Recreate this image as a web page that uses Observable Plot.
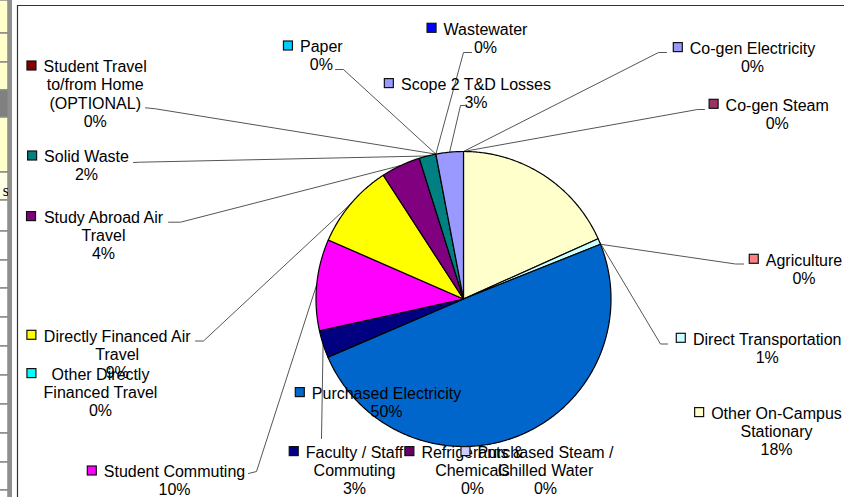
<!DOCTYPE html>
<html><head><meta charset="utf-8">
<script src="https://cdn.jsdelivr.net/npm/d3@7"></script>
<script src="https://cdn.jsdelivr.net/npm/@observablehq/plot@0.6"></script>
<style>
html,body{margin:0;padding:0;background:#fff;}
#chart{width:844px;height:497px;overflow:hidden;}
</style></head><body><div id="chart"></div>
<script>
// ---- data (clockwise from 12 o'clock) ----
const categories = [
  "Co-gen Electricity","Co-gen Steam","Other On-Campus Stationary","Direct Transportation",
  "Agriculture","Purchased Electricity","Refrigerants & Chemicals","Purchased Steam / Chilled Water",
  "Faculty / Staff Commuting","Student Commuting","Other Directly Financed Travel",
  "Directly Financed Air Travel","Study Abroad Air Travel","Solid Waste",
  "Student Travel to/from Home (OPTIONAL)","Paper","Wastewater","Scope 2 T&D Losses"
];
const values = [0, 0, 18.3, 0.65, 0, 49.6, 0, 0, 3.0, 10.0, 0, 9.3, 4.3, 1.85, 0, 0, 0, 3.0];
const colors = ["#9999FF","#993366","#FFFFCC","#CCFFFF","#FF8080","#0066CC","#660066","#CCCCFF",
  "#000080","#FF00FF","#00FFFF","#FFFF00","#800080","#008080","#800000","#00CCFF","#0000FF","#9999FF"];
const labelLines = [
  "Co-gen Electricity","Co-gen Steam","Other On-Campus\nStationary","Direct Transportation",
  "Agriculture","Purchased Electricity","Refrigerants &\nChemicals","Purchased Steam /\nChilled Water",
  "Faculty / Staff\nCommuting","Student Commuting","Other Directly\nFinanced Travel",
  "Directly Financed Air\nTravel","Study Abroad Air\nTravel","Solid Waste",
  "Student Travel\nto/from Home\n(OPTIONAL)","Paper","Wastewater","Scope 2 T&D Losses"
];

// ---- layout (label anchors: text centre x, first baseline y; leader elbow points) ----
const labelLayout = [
  {cx:752,   base:53.3,  leader:[[666,52],[658,52]]},
  {cx:776.7, base:110,   leader:[[704,109],[697,109]]},
  {cx:776,   base:418.3, leader:null},
  {cx:766.7, base:344,   leader:[[667,343.5],[660,343.5]]},
  {cx:803.5, base:265,   leader:[[743,263.5],[735,263.5]]},
  {cx:386,   base:398.3, leader:null},
  {cx:472,   base:457.3, leader:null},
  {cx:545,   base:457.3, leader:null},
  {cx:354,   base:457.3, leader:[[321,438]]},
  {cx:174,   base:476.7, leader:[[248,473],[256,471]]},
  {cx:100,   base:379.3, leader:null},
  {cx:116.7, base:341,   leader:[[195,340.5],[203,340.5]]},
  {cx:103,   base:222.3, leader:[[168,221.7],[180,221.7]]},
  {cx:86,    base:161.7, leader:[[133,162],[140,161.7]]},
  {cx:94.7,  base:71.7,  leader:[[145,107.3],[155,108.3]]},
  {cx:320.8, base:51.7,  leader:[[335,69],[343,69]]},
  {cx:485,   base:34,    leader:[[471,52],[463,52]]},
  {cx:475.5, base:89.3,  leader:[[464,105],[460,105]]}
];
const pie = {cx:463, cy:298.5, r:147.5};
const FS = 16, LH = 1.14;
const FONT = '"Liberation Sans", Arial, sans-serif';

// ---- derived ----
const ctx = document.createElement("canvas").getContext("2d");
ctx.font = `${FS}px ${FONT}`;
const total = d3.sum(values);
let acc = 0;
const slices = categories.map((name, i) => {
  const a0 = acc / total * 2 * Math.PI; acc += values[i];
  const a1 = acc / total * 2 * Math.PI;
  return {name, value: values[i], a0, a1, i};
});
const pt = a => [pie.cx + pie.r * Math.sin(a), pie.cy - pie.r * Math.cos(a)];

const polys = [];
slices.filter(s => s.value > 0).forEach(s => {
  polys.push({name: s.name, x: pie.cx, y: pie.cy});
  const n = Math.max(2, Math.ceil((s.a1 - s.a0) / 0.01));
  for (let k = 0; k <= n; k++) {
    const [x, y] = pt(s.a0 + (s.a1 - s.a0) * k / n);
    polys.push({name: s.name, x, y});
  }
  polys.push({name: s.name, x: pie.cx, y: pie.cy});
});

const leaders = [];
slices.forEach((s, i) => {
  const L = labelLayout[i];
  if (!L.leader) return;
  L.leader.forEach(([x, y]) => leaders.push({name: s.name, x, y}));
  const [x, y] = pt((s.a0 + s.a1) / 2);
  leaders.push({name: s.name, x, y});
});

const labels = slices.map((s, i) => {
  const L = labelLayout[i];
  const lines = labelLines[i].split("\n");
  const maxW = d3.max(lines, t => ctx.measureText(t).width);
  const pct = Math.round(s.value / total * 100) + "%";
  return {
    name: s.name,
    text: labelLines[i] + "\n" + pct,
    x: L.cx,
    y: L.base - 0.71 * LH * FS,
    kx2: L.cx - maxW / 2 - 7, kx1: L.cx - maxW / 2 - 16,
    ky1: L.base - 10.7, ky2: L.base - 1.7
  };
});

// spreadsheet strip on the left (decoration)
const sheetRows = [0,33,62,90,117,172,200,231,260,288,317,346,375,404,433,462,490,520];
const sheetFills = ["#FFFFCC","#FFFFCC","#FFFFCC","#808080","#FFFFCC","#FFFFE6","#FFFFFF","#FFFFFF","#FFFFFF","#FFFFFF","#FFFFFF","#FFFFFF","#FFFFFF","#FFFFFF","#FFFFFF","#FFFFFF","#FFFFFF"];
const cells = sheetFills.map((f, i) => ({y1: sheetRows[i], y2: sheetRows[i+1], fill: f}));

const labelMarks = labels.flatMap(d => [
  Plot.rect([d], {x1: "kx1", x2: "kx2", y1: "ky1", y2: "ky2", fill: "name", stroke: "#111", strokeWidth: 1.2}),
  Plot.text([d], {x: "x", y: "y", text: "text", fontSize: FS, fontFamily: FONT, lineAnchor: "top",
    lineHeight: LH, textAnchor: "middle", fill: "#000"})
]);

const chart = Plot.plot({
  width: 844, height: 497, margin: 0,
  x: {domain: [0, 844], range: [0, 844], axis: null},
  y: {domain: [0, 497], range: [0, 497], axis: null},
  color: {domain: categories, range: colors},
  style: {background: "#fff", overflow: "hidden"},
  marks: [
    Plot.rect(cells, {x1: -2, x2: 8, y1: "y1", y2: "y2", fill: "fill", stroke: "#8a8a8a", strokeWidth: 1.5}),
    Plot.text(["s"], {x: 8.5, y: 190, text: d => d, textAnchor: "end", fontSize: 16, fontFamily: '"Liberation Serif", serif', fill: "#000"}),
    Plot.rect([0], {x1: 8, x2: 12, y1: 0, y2: 497, fill: "#8f8f8f"}),
    Plot.ruleX([17], {y1: 5, y2: 497, stroke: "#333", strokeWidth: 1.2}),
    Plot.ruleY([5], {x1: 17, x2: 844, stroke: "#333", strokeWidth: 1.2}),
    Plot.line(leaders, {x: "x", y: "y", z: "name", stroke: "#555", strokeWidth: 1}),
    Plot.line(polys, {x: "x", y: "y", z: "name", fill: "name", stroke: "#000", strokeWidth: 1.2, strokeLinejoin: "round"}),
    ...labelMarks
  ]
});
document.getElementById("chart").appendChild(chart);
</script>
</body></html>
